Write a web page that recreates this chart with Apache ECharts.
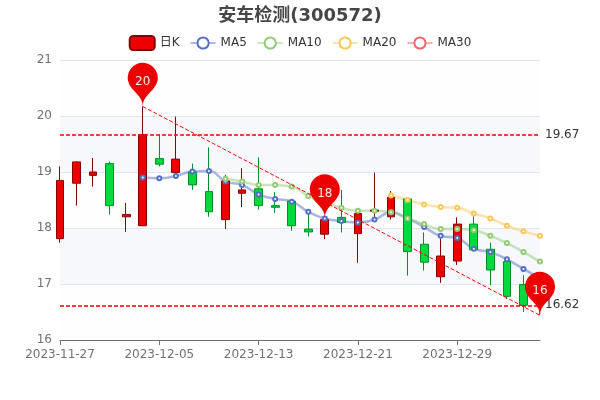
<!DOCTYPE html>
<html><head><meta charset="utf-8">
<script src="https://cdn.jsdelivr.net/npm/echarts@6/dist/echarts.min.js"></script>
<style>html,body{margin:0;padding:0;background:#fff}#c{width:600px;height:400px}</style>
</head><body><div id="c"></div>
<script>
const dates = ['2023-11-27','2023-11-28','2023-11-29','2023-11-30','2023-12-01','2023-12-04','2023-12-05','2023-12-06','2023-12-07','2023-12-08','2023-12-11','2023-12-12','2023-12-13','2023-12-14','2023-12-15','2023-12-18','2023-12-19','2023-12-20','2023-12-21','2023-12-22','2023-12-25','2023-12-26','2023-12-27','2023-12-28','2023-12-29','2024-01-02','2024-01-03','2024-01-04','2024-01-05','2024-01-08'];
// [open, close, low, high]
const kline = [
[17.81,18.85,17.74,19.10],[18.80,19.18,18.40,19.19],[18.94,19.00,18.74,19.25],[19.15,18.40,18.24,19.19],[18.20,18.24,17.93,18.45],
[18.04,19.67,18.04,20.17],[19.24,19.14,19.10,19.67],[18.99,19.23,18.99,19.99],[19.00,18.77,18.68,19.15],[18.65,18.29,18.20,19.44],
[18.15,18.84,17.98,18.95],[18.62,18.68,18.375,19.07],[18.70,18.40,18.33,19.26],[18.40,18.37,18.27,18.64],[18.48,18.04,17.95,18.50],
[17.98,17.93,17.85,18.26],[17.89,18.15,17.80,18.17],[18.19,18.10,17.92,18.68],[17.90,18.26,17.38,18.35],[18.30,18.32,18.15,18.99],
[18.20,18.55,18.15,18.66],[18.52,17.58,17.15,18.52],[17.71,17.39,17.24,17.92],[17.13,17.50,17.02,17.81],[17.41,18.07,17.34,18.19],
[18.07,17.61,17.61,18.21],[17.62,17.25,16.98,17.74],[17.40,16.78,16.73,17.40],[16.99,16.62,16.50,17.16],[16.99,16.75,16.44,17.10]];
const ma5 = ['-','-','-','-','-',18.90,18.89,18.93,19.01,19.02,18.83,18.77,18.60,18.52,18.47,18.29,18.17,18.125,18.10,18.15,18.28,18.17,18.02,17.86,17.82,17.63,17.57,17.44,17.27,17.10];
const ma10 = ['-','-','-','-','-','-','-','-','-','-',18.88,18.83,18.77,18.77,18.74,18.57,18.47,18.36,18.31,18.31,18.28,18.17,18.07,17.98,17.98,17.96,17.86,17.73,17.57,17.40];
const ma20 = ['-','-','-','-','-','-','-','-','-','-','-','-','-','-','-','-','-','-','-','-',18.58,18.50,18.42,18.375,18.36,18.26,18.17,18.04,17.94,17.86];
const ma30 = dates.map(() => '-');
const pins = [[5,20.17,'20'],[16,18.18,'18'],[29,16.44,'16']];
const hLines = [19.67,16.62];
const trend = [[5,20.17],[29,16.44]];
const FONT = '"DejaVu Sans", "Noto Sans CJK SC", sans-serif';
const maSeries = (name, data, color) => ({
  name, type:'line', data, smooth:true, color, symbol:'emptyCircle', symbolSize:4, showSymbol:true,
  lineStyle:{width:2.5, opacity:0.5, color}, itemStyle:{color, borderColor:color, borderWidth:2}, z:2
});
const chart = echarts.init(document.getElementById('c'), null, {renderer:'canvas'});
chart.setOption({
  animation:false,
  textStyle:{fontFamily:FONT},
  title:{text:'安车检测(300572)', left:'center', top:2, textStyle:{fontSize:18, fontWeight:'bold', color:'#464646', fontFamily:FONT}},
  legend:{top:30, left:'center', itemGap:10, data:['日K','MA5','MA10','MA20','MA30'], textStyle:{color:'#333', fontSize:12, fontFamily:FONT}},
  grid:{left:60, right:60, top:60, bottom:60},
  xAxis:{type:'category', data:dates, boundaryGap:false, axisLine:{show:true, lineStyle:{color:'#6E7079'}}, axisTick:{show:true, alignWithLabel:true, lineStyle:{color:'#6E7079'}}, axisLabel:{interval:5, color:'#6E7079', fontSize:12, fontFamily:FONT, hideOverlap:false, margin:9}, splitLine:{show:false}},
  yAxis:{type:'value', min:16, max:21, interval:1, axisLine:{show:false}, axisTick:{show:false}, axisLabel:{color:'#6E7079', fontSize:12, fontFamily:FONT, padding:[4,0,0,0]}, splitLine:{show:true, lineStyle:{color:'#E0E6F1'}}, splitArea:{show:true, areaStyle:{color:['rgba(250,250,250,0.2)','rgba(210,219,238,0.2)']}}},
  series:[
    {name:'日K', type:'candlestick', data:kline, clip:false,
     itemStyle:{color:'#ec0000', color0:'#00da3c', borderColor:'#8A0000', borderColor0:'#008F28'},
     markPoint:{symbol:'pin', symbolSize:50, itemStyle:{color:'#ec0000'}, label:{color:'#eee', fontSize:12, fontFamily:FONT, offset:[0,2], formatter:p => p.name},
       data:pins.map(p => ({name:p[2], coord:[p[0],p[1]], value:p[1]}))},
     markLine:{symbol:['none','none'], silent:true, animation:false,
       lineStyle:{color:'#ff0000', type:[4,2], width:1},
       label:{color:'#333', fontSize:12, fontFamily:FONT},
       data:[
        ...hLines.map(v => ({yAxis:v, lineStyle:{width:1.5}, label:{position:'end', formatter:String(v)}})),
        [{coord:trend[0], label:{show:false}},{coord:trend[1], label:{show:false}}]
       ]}},
    maSeries('MA5',ma5,'#5470c6'),
    maSeries('MA10',ma10,'#91cc75'),
    maSeries('MA20',ma20,'#fac858'),
    maSeries('MA30',ma30,'#ee6666')
  ]
});
</script></body></html>
